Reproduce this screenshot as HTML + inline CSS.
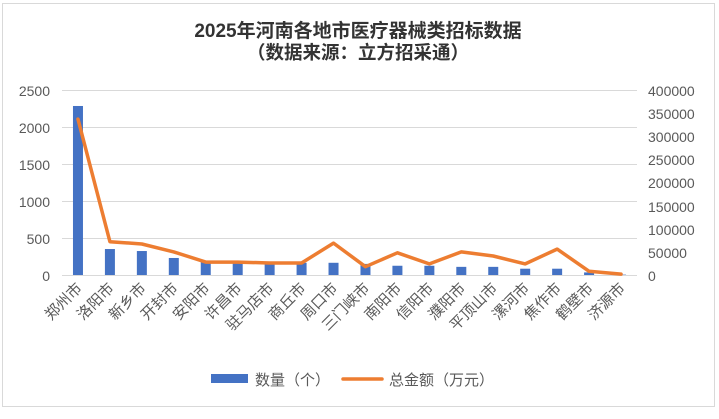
<!DOCTYPE html>
<html><head><meta charset="utf-8"><style>
html,body{margin:0;padding:0;background:#fff;}
svg text{font-family:"Liberation Sans","Noto Sans CJK SC",sans-serif;}
</style></head><body>
<svg width="719" height="414" xmlns="http://www.w3.org/2000/svg">
<rect x="2.5" y="3.5" width="712" height="403" fill="#fff" stroke="#d9d9d9"/>
<text x="358" y="37" text-anchor="middle" font-size="19" font-weight="bold" fill="#333">2025年河南各地市医疗器械类招标数据</text>
<text x="358" y="59" text-anchor="middle" font-size="18.5" font-weight="bold" fill="#333">（数据来源：立方招采通）</text>
<g stroke="#d9d9d9" stroke-width="1">
<line x1="62" x2="637" y1="90.5" y2="90.5"/><line x1="62" x2="637" y1="127.5" y2="127.5"/>
<line x1="62" x2="637" y1="164.5" y2="164.5"/><line x1="62" x2="637" y1="201.5" y2="201.5"/>
<line x1="62" x2="637" y1="238.5" y2="238.5"/><line x1="62" x2="637" y1="275.5" y2="275.5"/>
</g>
<g font-size="14" fill="#595959" text-anchor="end">
<text x="50" y="96">2500</text><text x="50" y="133">2000</text><text x="50" y="170">1500</text>
<text x="50" y="207">1000</text><text x="50" y="244">500</text><text x="50" y="281">0</text>
</g>
<g font-size="14" fill="#595959" text-anchor="start">
<text x="648" y="96">400000</text><text x="648" y="119">350000</text><text x="648" y="142">300000</text>
<text x="648" y="165">250000</text><text x="648" y="188">200000</text><text x="648" y="212">150000</text>
<text x="648" y="235">100000</text><text x="648" y="258">50000</text><text x="648" y="281">0</text>
</g>
<g fill="#4472c4" id="bars"></g>
<polyline id="ln" fill="none" stroke="#ed7d31" stroke-width="3.5" stroke-linejoin="round" stroke-linecap="round"/>
<g id="labs" font-size="15" fill="#595959"></g>
<rect x="211" y="374" width="37" height="9" fill="#4472c4"/>
<text x="255" y="385" font-size="15" fill="#595959">数量（个）</text>
<line x1="343" x2="382" y1="379" y2="379" stroke="#ed7d31" stroke-width="3.5" stroke-linecap="round"/>
<text x="389" y="385" font-size="15" fill="#595959">总金额（万元）</text>
<script>
var names=["郑州市","洛阳市","新乡市","开封市","安阳市","许昌市","驻马店市","商丘市","周口市","三门峡市","南阳市","信阳市","濮阳市","平顶山市","漯河市","焦作市","鹤壁市","济源市"];
var cnt=[2284,351,324,230,190,180,170,165,165,150,125,125,110,110,85,85,35,5];
var amt=[337000,72000,67000,50000,28000,28000,26000,26000,69000,18000,48000,24000,50000,41000,24000,56000,8000,2000];
var ns="http://www.w3.org/2000/svg",b=document.getElementById("bars"),l=document.getElementById("labs"),pts=[];
var w=575/18;
for(var i=0;i<18;i++){var cx=62+w*(i+0.5);
var h=cnt[i]/2500*185;var r=document.createElementNS(ns,"rect");
r.setAttribute("x",cx-5);r.setAttribute("y",275-h);r.setAttribute("width",10);r.setAttribute("height",h);b.appendChild(r);
pts.push(cx+","+(275-amt[i]/400000*185).toFixed(1));
var t=document.createElementNS(ns,"text");t.setAttribute("text-anchor","end");
t.setAttribute("transform","translate("+(cx+5)+",289) rotate(-45)");t.textContent=names[i];l.appendChild(t);}
document.getElementById("ln").setAttribute("points",pts.join(" "));
</script>
</svg>
</body></html>
